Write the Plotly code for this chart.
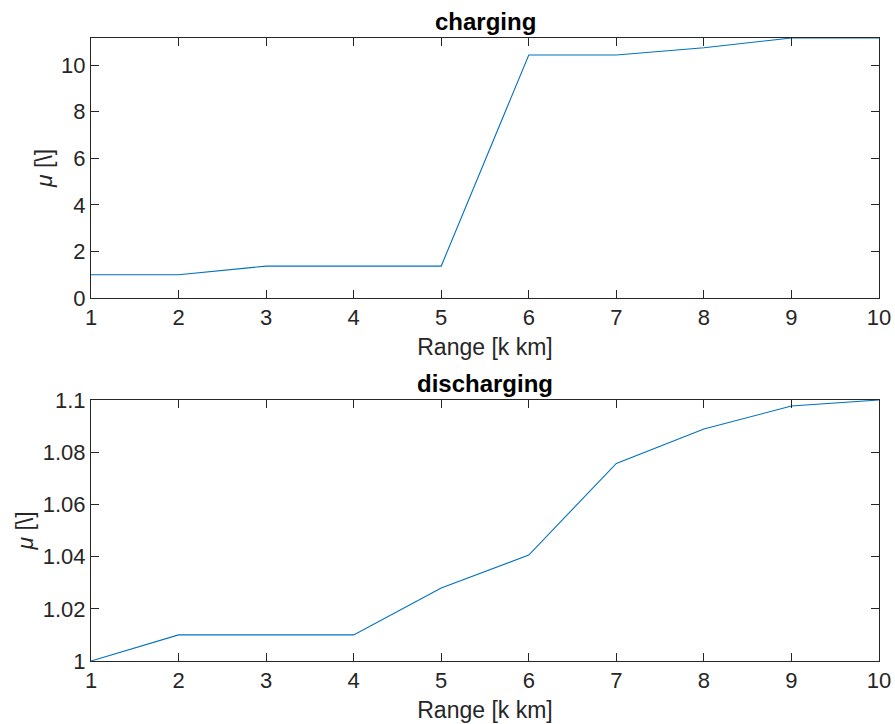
import plotly.graph_objects as go

range_km = [1, 2, 3, 4, 5, 6, 7, 8, 9, 10]
mu_charging = [1.0, 1.0, 1.37, 1.37, 1.37, 10.43, 10.43, 10.74, 11.16, 11.16]
mu_discharging = [1.0, 1.01, 1.01, 1.01, 1.028, 1.0406, 1.0757, 1.0889, 1.0977, 1.1]
charging_ticks = [0, 2, 4, 6, 8, 10]
discharging_ticks = [1, 1.02, 1.04, 1.06, 1.08, 1.1]

W, H = 895, 724
FONT = "Liberation Sans, Arial, Helvetica, sans-serif"
AX = "#262626"
BLUE = "#0072BD"

fig = go.Figure()
fig.add_trace(go.Scatter(x=range_km, y=mu_charging, mode="lines",
                         line=dict(color=BLUE, width=1.1), xaxis="x", yaxis="y", showlegend=False))
fig.add_trace(go.Scatter(x=range_km, y=mu_discharging, mode="lines",
                         line=dict(color=BLUE, width=1.1), xaxis="x2", yaxis="y2", showlegend=False))

xd = [91 / W, 879 / W]
top_dom = [1 - 298 / H, 1 - 38 / H]
bot_dom = [1 - 661 / H, 1 - 400 / H]

def xaxis(anchor):
    return dict(domain=xd, anchor=anchor, range=[1, 10], tickvals=range_km,
                ticks="inside", ticklen=8, tickcolor=AX, showline=True, linecolor=AX,
                linewidth=1, mirror="ticks", showgrid=False, zeroline=False, automargin=False,
                tickfont=dict(family=FONT, size=22, color=AX),
                title=dict(text="Range [k km]", font=dict(family=FONT, size=23, color=AX), standoff=9))

def yaxis(anchor, dom, rng, tv):
    return dict(domain=dom, anchor=anchor, range=rng, tickvals=tv,
                ticks="inside", ticklen=8, tickcolor=AX, showline=True, linecolor=AX,
                linewidth=1, mirror="ticks", showgrid=False, zeroline=False, automargin=False,
                tickfont=dict(family=FONT, size=22, color=AX),
                title=dict(text="<i>μ</i> [\\]", font=dict(family=FONT, size=23, color=AX), standoff=2))

fig.update_layout(
    width=W, height=H, margin=dict(l=0, r=0, t=0, b=0, autoexpand=False),
    paper_bgcolor="white", plot_bgcolor="white",
    xaxis=xaxis("y"), yaxis=yaxis("x", top_dom, [0, 11.16], charging_ticks),
    xaxis2=xaxis("y2"), yaxis2=yaxis("x2", bot_dom, [1, 1.1], discharging_ticks),
    annotations=[
        dict(text="<b>charging</b>", x=(xd[0] + xd[1]) / 2, y=top_dom[1], xref="paper", yref="paper",
             xanchor="center", yanchor="bottom", yshift=1, showarrow=False,
             font=dict(family=FONT, size=24, color="black")),
        dict(text="<b>discharging</b>", x=(xd[0] + xd[1]) / 2, y=bot_dom[1], xref="paper", yref="paper",
             xanchor="center", yanchor="bottom", yshift=1, showarrow=False,
             font=dict(family=FONT, size=24, color="black")),
    ],
)

fig.write_html("out.html", config={"displayModeBar": False},
               post_script="document.body.style.margin='0px';")
